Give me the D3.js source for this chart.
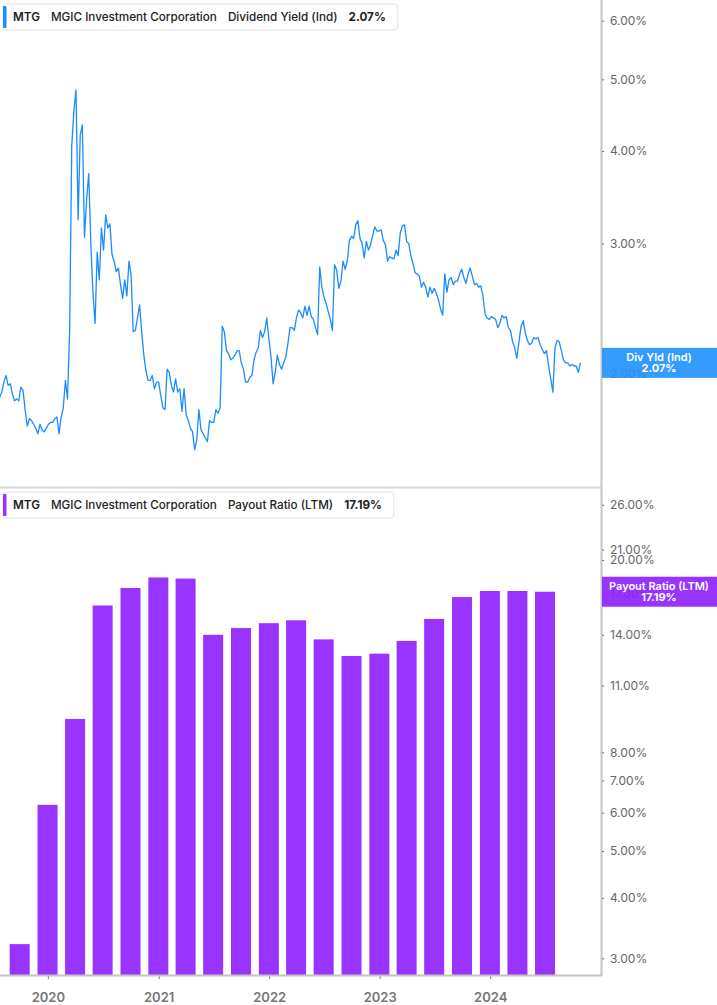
<!DOCTYPE html>
<html><head><meta charset="utf-8">
<script src="https://cdn.jsdelivr.net/npm/d3@7"></script>
<style>
body{margin:0;background:#fff;}
svg{display:block;font-family:Inter,"Liberation Sans",Arial,sans-serif;}
</style></head><body>
<svg id="chart" width="717" height="1005"></svg>
<script>
// ---------- data ----------
const ticker = "MTG";
const company = "MGIC Investment Corporation";
const yieldName = "Dividend Yield (Ind)";
const yieldShort = "Div Yld (Ind)";
const payoutName = "Payout Ratio (LTM)";

// weekly dividend yield (%), first week 2019-07-26
const yieldStart = "2019-07-26";
const yieldValues = [
 1.86,1.89,1.95,1.99,1.93,1.94,1.88,1.84,1.85,1.84,
 1.92,1.90,1.79,1.70,1.74,1.73,1.71,1.69,1.66,1.71,
 1.68,1.67,1.69,1.71,1.72,1.72,1.74,1.75,1.66,1.75,
 1.80,1.96,1.85,2.29,4.07,4.53,4.84,3.23,4.20,4.34,
 3.06,3.44,3.73,3.00,2.57,2.34,2.92,2.68,3.15,2.94,
 3.28,3.15,3.19,2.90,2.84,2.75,2.78,2.64,2.53,2.68,
 2.55,2.84,2.72,2.28,2.29,2.38,2.48,2.28,2.12,2.02,
 1.96,1.96,1.99,1.91,1.95,1.95,1.87,1.80,1.79,2.03,
 2.01,1.93,1.89,1.97,1.89,1.91,1.78,1.91,1.76,1.73,
 1.69,1.67,1.58,1.63,1.79,1.68,1.66,1.64,1.62,1.73,
 1.72,1.72,1.79,1.77,1.80,2.32,2.28,2.15,2.13,2.09,
 2.10,2.12,2.15,2.15,2.07,2.03,1.95,1.95,1.98,1.99,
 2.09,2.14,2.17,2.29,2.24,2.28,2.38,2.23,2.11,1.94,
 2.01,2.12,2.06,2.03,2.07,2.11,2.20,2.31,2.31,2.29,
 2.38,2.44,2.42,2.38,2.47,2.40,2.47,2.39,2.37,2.31,
 2.26,2.79,2.62,2.54,2.49,2.43,2.37,2.29,2.81,2.76,
 2.61,2.67,2.84,2.77,2.84,3.03,3.07,3.05,3.18,3.22,
 3.05,3.00,2.87,3.02,2.94,2.99,3.08,3.16,3.12,3.12,
 3.13,3.03,2.99,2.84,2.88,2.87,2.86,2.94,2.89,3.10,
 3.17,3.18,3.02,3.00,2.89,2.82,2.74,2.73,2.71,2.62,
 2.66,2.62,2.54,2.62,2.57,2.61,2.57,2.52,2.45,2.40,
 2.73,2.58,2.68,2.70,2.64,2.67,2.67,2.73,2.77,2.70,
 2.65,2.73,2.78,2.71,2.64,2.65,2.62,2.63,2.55,2.41,
 2.38,2.37,2.39,2.38,2.37,2.31,2.34,2.40,2.38,2.39,
 2.31,2.29,2.21,2.17,2.10,2.21,2.32,2.36,2.27,2.22,
 2.19,2.20,2.24,2.23,2.24,2.19,2.16,2.13,2.15,2.05,
 1.97,1.89,2.17,2.22,2.21,2.15,2.09,2.07,2.07,2.05,
 2.06,2.05,2.05,2.01,2.07
];
const yieldLast = 2.07;

const payoutDates = [
 "2019-09-30","2019-12-31","2020-03-31","2020-06-30","2020-09-30",
 "2020-12-31","2021-03-31","2021-06-30","2021-09-30","2021-12-31",
 "2022-03-31","2022-06-30","2022-09-30","2022-12-31","2023-03-31",
 "2023-06-30","2023-09-30","2023-12-31","2024-03-31","2024-06-30"
];
const payoutValues = [
 3.21,6.23,9.38,16.1,17.5,18.4,18.3,14.0,14.46,14.8,
 15.0,13.7,12.66,12.8,13.6,15.1,16.76,17.25,17.25,17.19
];
const payoutLast = 17.19;

const yieldTicks = [2,3,4,5,6];
const payoutTicks = [3,4,5,6,7,8,11,14,17,20,21,26];
const yearTicks = ["2020-01-01","2021-01-01","2022-01-01","2023-01-01","2024-01-01"];

// ---------- layout ----------
const W = 717, H = 1005;
const plotR = 601;
const topY0 = 0, topY1 = 487;
const botY0 = 488, botY1 = 975;
const blue = "#1a8cff", blueLbl = "#2090ff";
const purple = "#9933ff", purpleLbl = "#8c1eff";

const parse = d3.utcParse("%Y-%m-%d");
const svg = d3.select("#chart");

const x = d3.scaleUtc().domain([parse("2019-07-27"), parse("2025-01-01")]).range([0, plotR]);
const yTop = d3.scaleLog().domain([1.407, 6.4]).range([topY1, topY0]);
const yBot = d3.scaleLog().domain([2.771, 28.17]).range([botY1, botY0]);

const yieldData = yieldValues.map((v,i)=>({d:d3.utcDay.offset(parse(yieldStart), 7*i), v}));
const payoutData = payoutDates.map((d,i)=>({d:parse(d), v:payoutValues[i]}));

// clip
svg.append("defs").append("clipPath").attr("id","clipTop")
  .append("rect").attr("x",0).attr("y",topY0).attr("width",plotR).attr("height",topY1-topY0);

// separator between panels
svg.append("line").attr("x1",0).attr("x2",plotR).attr("y1",topY1+0.5).attr("y2",topY1+0.5)
  .attr("stroke","#d6d6d6").attr("stroke-width",2);

// ---------- top panel: line ----------
svg.append("path").datum(yieldData)
  .attr("clip-path","url(#clipTop)")
  .attr("fill","none").attr("stroke",blue).attr("stroke-width",1.3).attr("stroke-linejoin","round")
  .attr("d", d3.line().x(d=>x(d.d)).y(d=>yTop(d.v)));

// ---------- bottom panel: bars ----------
const barW = 20;
svg.append("g").selectAll("rect").data(payoutData).join("rect")
  .attr("x", d=>x(d.d)-barW/2)
  .attr("width", barW)
  .attr("y", d=>yBot(d.v))
  .attr("height", d=>botY1 - yBot(d.v))
  .attr("fill", purple);

// ---------- axes ----------
function styleY(g){
  g.select(".domain").remove();
  g.selectAll(".tick line").attr("stroke","#555").attr("stroke-width",1);
  g.selectAll(".tick text").attr("fill","#666").attr("font-size","12px").attr("font-family","Inter,'Liberation Sans',Arial,sans-serif");
}
const fmt = d=>d.toFixed(2)+"%";
svg.append("g").attr("transform",`translate(${plotR},0)`)
  .call(d3.axisRight(yTop).tickValues(yieldTicks).tickFormat(fmt).tickSize(3).tickPadding(6))
  .call(styleY);
svg.append("g").attr("transform",`translate(${plotR},0)`)
  .call(d3.axisRight(yBot).tickValues(payoutTicks).tickFormat(fmt).tickSize(3).tickPadding(6))
  .call(styleY);

// vertical axis line
svg.append("line").attr("x1",plotR+0.5).attr("x2",plotR+0.5).attr("y1",0).attr("y2",botY1+1)
  .attr("stroke","#c4c4c4").attr("stroke-width",2);

// x axis
const xg = svg.append("g").attr("transform",`translate(0,${botY1})`)
  .call(d3.axisBottom(x).tickValues(yearTicks.map(parse)).tickFormat(d3.utcFormat("%Y")).tickSize(4).tickPadding(14));
xg.select(".domain").remove();
xg.selectAll(".tick line").attr("stroke","#777");
xg.selectAll(".tick text").attr("fill","#777").attr("font-size","13px").attr("font-weight","600")
  .attr("font-family","Inter,'Liberation Sans',Arial,sans-serif");
svg.append("line").attr("x1",0).attr("x2",plotR+1).attr("y1",botY1+0.5).attr("y2",botY1+0.5)
  .attr("stroke","#c4c4c4").attr("stroke-width",2);

// ---------- value labels on right ----------
function valueLabel(yPos, color, title, val){
  const g = svg.append("g");
  g.append("rect").attr("x",plotR+1).attr("y",yPos-15).attr("width",W-plotR-1).attr("height",30)
    .attr("fill",color).attr("fill-opacity",0.9);
  g.append("text").attr("x",(plotR+W)/2).attr("y",yPos-2).attr("text-anchor","middle")
    .attr("fill","#fff").attr("font-size","11px").attr("font-weight","600").text(title);
  g.append("text").attr("x",(plotR+W)/2).attr("y",yPos+9).attr("text-anchor","middle")
    .attr("fill","#fff").attr("font-size","11px").attr("font-weight","700").text(fmt(val));
}
valueLabel(yTop(yieldLast), blueLbl, yieldShort, yieldLast);
valueLabel(yBot(payoutLast), purpleLbl, payoutName, payoutLast);

// ---------- legends ----------
function legend(y0, color, name, val){
  const g = svg.append("g");
  const box = g.append("rect").attr("x",3).attr("y",y0).attr("height",26).attr("rx",3)
    .attr("fill","#fff").attr("stroke","#e4e4e4");
  g.append("rect").attr("x",3).attr("y",y0+2).attr("width",3.5).attr("height",22).attr("fill",color).attr("rx",1);
  const parts = [[ticker,600],[company,500],[name,500],[fmt(val),700]];
  let cx = 13;
  parts.forEach(([t,w])=>{
    const tx = g.append("text").attr("x",cx).attr("y",y0+17).attr("font-size","11.7px")
      .attr("font-weight",w).attr("fill","#222").text(t);
    cx += tx.node().getComputedTextLength() + 11;
  });
  box.attr("width", cx - 11 + 12 - 3);
}
legend(4, blue, yieldName, yieldLast);
legend(492, purple, payoutName, payoutLast);
</script>
</body></html>
